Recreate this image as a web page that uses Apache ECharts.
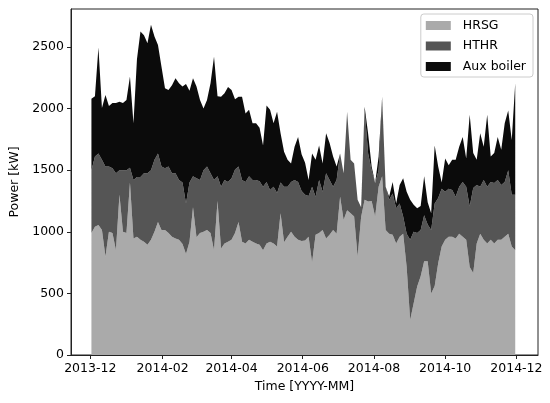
<!DOCTYPE html>
<html><head><meta charset="utf-8">
<script src="https://cdn.jsdelivr.net/npm/echarts@6/dist/echarts.min.js"></script>
<style>html,body{margin:0;padding:0;background:#fff}#c{width:550px;height:403px}</style>
</head><body><div id="c"></div>
<script>
const dates = [
'2013-12-02','2013-12-05','2013-12-08','2013-12-11','2013-12-14','2013-12-17','2013-12-20','2013-12-23','2013-12-26','2013-12-29',
'2014-01-01','2014-01-04','2014-01-07','2014-01-10','2014-01-13','2014-01-16','2014-01-19','2014-01-22','2014-01-25','2014-01-28',
'2014-01-31','2014-02-03','2014-02-06','2014-02-09','2014-02-12','2014-02-15','2014-02-18','2014-02-21','2014-02-24','2014-02-27',
'2014-03-02','2014-03-05','2014-03-08','2014-03-11','2014-03-14','2014-03-17','2014-03-20','2014-03-23','2014-03-26','2014-03-29',
'2014-04-01','2014-04-04','2014-04-07','2014-04-10','2014-04-13','2014-04-16','2014-04-19','2014-04-22','2014-04-25','2014-04-28',
'2014-05-01','2014-05-04','2014-05-07','2014-05-10','2014-05-13','2014-05-16','2014-05-19','2014-05-22','2014-05-25','2014-05-28',
'2014-05-31','2014-06-03','2014-06-06','2014-06-09','2014-06-12','2014-06-15','2014-06-18','2014-06-21','2014-06-24','2014-06-27',
'2014-06-30','2014-07-03','2014-07-06','2014-07-09','2014-07-12','2014-07-15','2014-07-18','2014-07-21','2014-07-24','2014-07-27',
'2014-07-30','2014-08-02','2014-08-05','2014-08-08','2014-08-11','2014-08-14','2014-08-17','2014-08-20','2014-08-23','2014-08-26',
'2014-08-29','2014-09-01','2014-09-04','2014-09-07','2014-09-10','2014-09-13','2014-09-16','2014-09-19','2014-09-22','2014-09-25',
'2014-09-28','2014-10-01','2014-10-04','2014-10-07','2014-10-10','2014-10-13','2014-10-16','2014-10-19','2014-10-22','2014-10-25',
'2014-10-28','2014-10-31','2014-11-03','2014-11-06','2014-11-09','2014-11-12','2014-11-15','2014-11-18','2014-11-21','2014-11-24',
'2014-11-27','2014-11-30'];

const hrsg = [
990,1040,1055,1015,800,1000,990,850,1300,1000,
990,1400,945,960,935,920,895,935,1000,1080,
1015,1015,990,960,945,935,900,820,920,1200,
955,990,1000,1015,990,850,1250,865,905,920,
935,990,1080,920,905,935,920,905,895,850,
905,920,905,880,1150,915,960,1000,960,935,
925,930,960,750,975,990,1015,945,975,1015,
985,1285,1095,1175,1150,1125,800,1120,1260,1245,
1250,1125,1365,1450,1015,985,975,905,960,985,
715,285,420,555,640,760,760,500,560,745,
880,935,960,960,945,985,960,935,715,665,
905,985,935,905,935,905,935,935,960,985,
880,850];

const hthr = [
510,570,580,570,730,530,525,625,200,500,
510,120,475,485,510,555,580,565,585,555,
515,500,540,515,530,485,500,410,480,250,
480,430,500,515,485,570,200,500,515,485,
500,515,450,500,500,515,500,515,515,515,
500,420,460,435,250,450,405,405,460,470,
405,370,330,615,310,430,310,530,445,350,
435,350,380,800,435,430,460,80,730,390,
250,270,135,640,350,275,335,285,270,140,
270,650,580,435,375,375,300,515,670,530,
470,390,390,380,340,380,445,430,490,690,
475,380,485,460,470,490,485,445,445,515,
420,450];

const aux = [
580,490,860,420,580,490,530,570,555,545,
570,740,460,955,1180,1120,1055,1180,1000,880,
810,650,620,715,770,785,780,970,745,795,
745,650,500,540,730,1000,650,730,705,770,
715,570,565,675,555,540,460,460,435,335,
620,650,515,660,400,285,220,150,270,365,
300,260,130,270,300,280,230,325,300,245,
110,0,0,0,0,0,0,0,25,160,
30,0,110,5,0,25,95,40,150,310,
340,325,220,200,195,315,180,135,470,255,
50,270,190,245,300,325,365,230,745,285,
205,435,270,585,205,245,350,285,475,485,
445,905];

const tickDates = ['2013-12-01','2014-02-01','2014-04-01','2014-06-01','2014-08-01','2014-10-01','2014-12-01'];
const seriesNames = ['HRSG','HTHR','Aux boiler'];
const seriesColors = ['#aaaaaa','#555555','#0b0b0b'];

function ts(s){const p=s.split(/[- :]/).map(Number);return new Date(p[0],p[1]-1,p[2],p[3]||0).getTime();}
const FONT='DejaVu Sans';
const tickTs = tickDates.map(ts);
const values=[hrsg,hthr,aux];
const xMin = ts('2013-11-14 12'), xMax = ts('2014-12-19 12');

const chart = echarts.init(document.getElementById('c'), null, {renderer:'canvas'});
chart.setOption({
  animation:false,
  backgroundColor:'#ffffff',
  grid:{left:70,right:12,top:9,bottom:48,show:true,borderColor:'#222',borderWidth:1,backgroundColor:'transparent'},
  legend:{
    data:seriesNames, orient:'vertical', right:17, top:14,
    icon:'rect', itemWidth:25, itemHeight:9, itemGap:7.5,
    padding:[5,7,4,5], backgroundColor:'rgba(255,255,255,0.85)',
    borderColor:'#cccccc', borderWidth:1, borderRadius:3,
    textStyle:{fontFamily:FONT,fontSize:12.5,color:'#000',padding:[0,0,0,7]}
  },
  xAxis:[{
    type:'time', min:xMin, max:xMax, position:'bottom',
    axisLine:{show:false}, axisTick:{show:false}, axisLabel:{show:false}, splitLine:{show:false}
  },{
    type:'value', min:xMin, max:xMax, position:'bottom',
    name:'Time [YYYY-MM]', nameLocation:'middle', nameGap:24,
    nameTextStyle:{fontFamily:FONT,fontSize:12.5,color:'#000'},
    axisLine:{show:true,onZero:false,lineStyle:{color:'#222',width:1}},
    axisTick:{show:true,inside:false,length:4,customValues:tickTs,lineStyle:{color:'#222'}},
    axisLabel:{customValues:tickTs,margin:7,fontFamily:FONT,fontSize:12.5,color:'#000',hideOverlap:false,
      formatter:function(v){const d=new Date(v);return d.getFullYear()+'-'+String(d.getMonth()+1).padStart(2,'0');}},
    splitLine:{show:false}
  }],
  yAxis:{
    type:'value', min:0, max:2808, interval:500,
    name:'Power [kW]', nameLocation:'middle', nameGap:50, nameRotate:90,
    nameTextStyle:{fontFamily:FONT,fontSize:12.5,color:'#000'},
    axisLine:{show:true,lineStyle:{color:'#222',width:1}},
    axisTick:{show:true,inside:false,length:4,lineStyle:{color:'#222'}},
    axisLabel:{margin:7,fontFamily:FONT,fontSize:12.5,color:'#000',showMaxLabel:false,
      formatter:function(v){return String(v);}},
    splitLine:{show:false}
  },
  series: seriesNames.map(function(n,i){
    return {
      name:n, type:'line', stack:'total', symbol:'none', showSymbol:false,
      xAxisIndex:0, yAxisIndex:0,
      lineStyle:{width:0,color:seriesColors[i]},
      itemStyle:{color:seriesColors[i]},
      areaStyle:{color:seriesColors[i],opacity:1},
      emphasis:{disabled:true},
      data: dates.map(function(d,j){return [d, values[i][j]];})
    };
  })
});
</script>
</body></html>
